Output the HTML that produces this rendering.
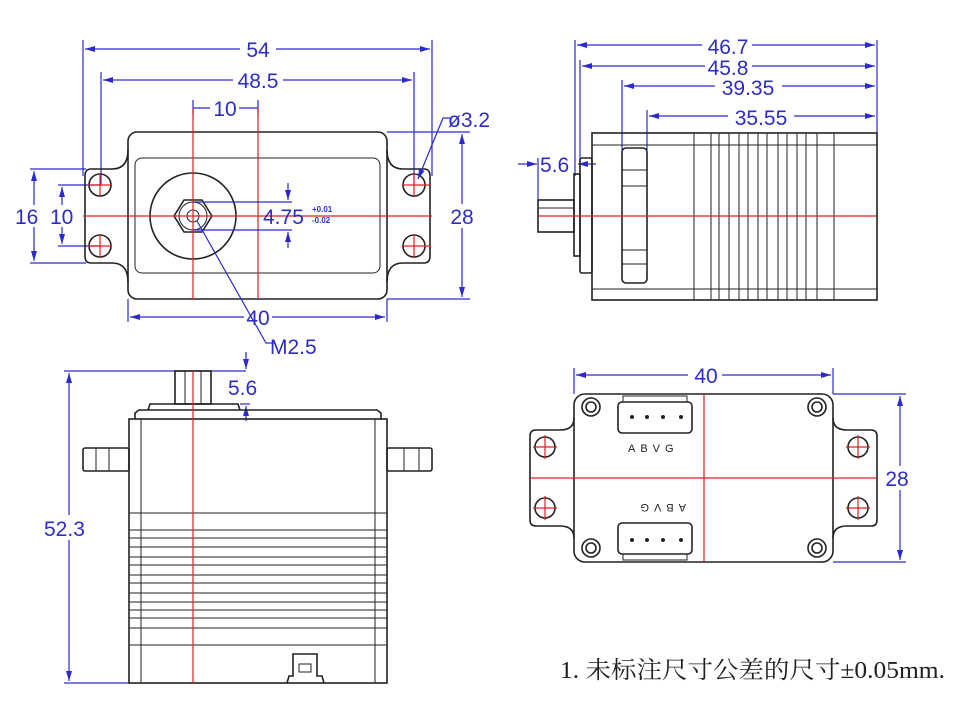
<!DOCTYPE html>
<html><head><meta charset="utf-8"><style>
html,body{margin:0;padding:0;background:#fff;}
svg{display:block}
.k{fill:none;stroke:#222;stroke-width:1.6}
.t{fill:none;stroke:#222;stroke-width:1}
.b{fill:none;stroke:#2a2ad0;stroke-width:1.2}
.r{fill:none;stroke:#e02020;stroke-width:1.2}
.d{font-family:"Liberation Sans",sans-serif;fill:#2c2ccc;font-size:21px}
</style></head><body>
<svg width="974" height="708" viewBox="0 0 974 708" xmlns="http://www.w3.org/2000/svg">
<defs>
<marker id="a" viewBox="0 0 10 6" refX="10" refY="3" markerWidth="10" markerHeight="6" orient="auto-start-reverse" markerUnits="userSpaceOnUse"><path d="M0,0L10,3L0,6z" fill="#2a2ad0"/></marker>
</defs>

<g>
<line class="b" x1="83" y1="40" x2="83" y2="176"/><line class="b" x1="432" y1="40" x2="432" y2="176"/>
<line class="b" x1="85" y1="49" x2="240" y2="49" marker-start="url(#a)"/><line class="b" x1="276" y1="49" x2="430" y2="49" marker-end="url(#a)"/>
<rect x="240" y="36" width="36" height="24" fill="#fff"/><text class="d" x="258" y="57" text-anchor="middle">54</text>
<line class="b" x1="101" y1="72" x2="101" y2="185"/><line class="b" x1="414" y1="72" x2="414" y2="185"/>
<line class="b" x1="103" y1="80" x2="233" y2="80" marker-start="url(#a)"/><line class="b" x1="283" y1="80" x2="412" y2="80" marker-end="url(#a)"/>
<text class="d" x="258" y="88" text-anchor="middle">48.5</text>
<line class="b" x1="193" y1="100" x2="193" y2="115"/><line class="b" x1="258" y1="100" x2="258" y2="115"/>
<line class="b" x1="193" y1="108" x2="210" y2="108"/><line class="b" x1="239" y1="108" x2="258" y2="108"/>
<text class="d" x="225" y="116" text-anchor="middle">10</text>
<line class="b" x1="30" y1="169" x2="86" y2="169"/><line class="b" x1="30" y1="263" x2="86" y2="263"/>
<line class="b" x1="34" y1="171" x2="34" y2="205" marker-start="url(#a)"/><line class="b" x1="34" y1="227" x2="34" y2="261" marker-end="url(#a)"/>
<line class="b" x1="58" y1="185" x2="100" y2="185"/><line class="b" x1="58" y1="246" x2="100" y2="246"/>
<line class="b" x1="62" y1="187" x2="62" y2="205" marker-start="url(#a)"/><line class="b" x1="62" y1="227" x2="62" y2="244" marker-end="url(#a)"/>
<text class="d" x="15" y="224">16</text><text class="d" x="50" y="224">10</text>
<line class="b" x1="387" y1="132" x2="470" y2="132"/><line class="b" x1="387" y1="299" x2="470" y2="299"/>
<line class="b" x1="462" y1="134" x2="462" y2="204" marker-start="url(#a)"/><line class="b" x1="462" y1="228" x2="462" y2="297" marker-end="url(#a)"/>
<text class="d" x="462" y="224" text-anchor="middle">28</text>
<line class="b" x1="128" y1="299" x2="128" y2="322"/><line class="b" x1="387" y1="299" x2="387" y2="322"/>
<line class="b" x1="130" y1="317" x2="244" y2="317" marker-start="url(#a)"/><line class="b" x1="272" y1="317" x2="385" y2="317" marker-end="url(#a)"/>
<text class="d" x="258" y="325" text-anchor="middle">40</text>
<rect class="k" x="128" y="132" width="259" height="167" rx="9"/>
<rect class="t" x="135" y="158" width="245" height="115" rx="7"/>
<path class="k" d="M128,150 Q128,169 112,169 L91,169 Q85,169 85,176 L85,256 Q85,263 91,263 L112,263 Q128,263 128,282"/>
<path class="k" d="M387,150 Q387,169 403,169 L424,169 Q430,169 430,176 L430,256 Q430,263 424,263 L403,263 Q387,263 387,282"/>
<circle class="k" cx="100" cy="185" r="11"/><circle class="k" cx="100" cy="246" r="11"/>
<circle class="k" cx="414" cy="185" r="11"/><circle class="k" cx="414" cy="246" r="11"/>
<circle class="k" cx="193" cy="216" r="43"/>
<polygon class="k" points="212,216 202,200 184,200 174,216 184,232 202,232"/>
<circle class="t" cx="193" cy="216" r="14"/><circle class="t" cx="193" cy="216" r="6"/>
<line class="r" x1="83" y1="216" x2="432" y2="216"/>
<line class="r" x1="193" y1="108" x2="193" y2="300"/><line class="r" x1="258" y1="108" x2="258" y2="300"/>
<line class="r" x1="88" y1="185" x2="112" y2="185"/><line class="r" x1="100" y1="173" x2="100" y2="197"/>
<line class="r" x1="88" y1="246" x2="112" y2="246"/><line class="r" x1="100" y1="234" x2="100" y2="258"/>
<line class="r" x1="402" y1="185" x2="430" y2="185"/><line class="r" x1="414" y1="173" x2="414" y2="197"/>
<line class="r" x1="402" y1="246" x2="430" y2="246"/><line class="r" x1="414" y1="234" x2="414" y2="258"/>
<line class="b" x1="193" y1="202" x2="292" y2="202"/><line class="b" x1="193" y1="230" x2="292" y2="230"/>
<line class="b" x1="288" y1="183" x2="288" y2="200" marker-end="url(#a)"/><line class="b" x1="288" y1="248" x2="288" y2="232" marker-end="url(#a)"/>
<text class="d" x="263" y="224">4.75</text>
<text class="d" x="312" y="212" style="font-size:8px;font-weight:bold">+0.01</text>
<text class="d" x="312" y="223" style="font-size:8px;font-weight:bold">-0.02</text>
<polyline class="b" points="197,221 266,343 275,343"/>
<text class="d" x="270" y="354">M2.5</text>
<polyline class="b" points="418,179 443,118 450,118" marker-start="url(#a)"/>
<text class="d" x="448" y="127">ø3.2</text>
</g>

<g>
<line class="b" x1="575" y1="40" x2="575" y2="176"/><line class="b" x1="580" y1="60" x2="580" y2="170"/>
<line class="b" x1="622" y1="80" x2="622" y2="150"/><line class="b" x1="647" y1="110" x2="647" y2="150"/>
<line class="b" x1="877" y1="40" x2="877" y2="133"/>
<line class="b" x1="577" y1="45" x2="702" y2="45" marker-start="url(#a)"/><line class="b" x1="752" y1="45" x2="875" y2="45" marker-end="url(#a)"/>
<text class="d" x="728" y="54" text-anchor="middle">46.7</text>
<line class="b" x1="582" y1="66" x2="705" y2="66" marker-start="url(#a)"/><line class="b" x1="752" y1="66" x2="875" y2="66" marker-end="url(#a)"/>
<text class="d" x="728" y="75" text-anchor="middle">45.8</text>
<line class="b" x1="624" y1="86" x2="715" y2="86" marker-start="url(#a)"/><line class="b" x1="782" y1="86" x2="875" y2="86" marker-end="url(#a)"/>
<text class="d" x="748" y="95" text-anchor="middle">39.35</text>
<line class="b" x1="649" y1="116" x2="728" y2="116" marker-start="url(#a)"/><line class="b" x1="794" y1="116" x2="875" y2="116" marker-end="url(#a)"/>
<text class="d" x="761" y="125" text-anchor="middle">35.55</text>
<line class="b" x1="518" y1="164" x2="537" y2="164" marker-end="url(#a)"/><line class="b" x1="538" y1="158" x2="538" y2="200"/>
<line class="b" x1="596" y1="164" x2="578" y2="164" marker-end="url(#a)"/>
<text class="d" x="540" y="172">5.6</text>
<rect class="k" x="592" y="133" width="285" height="167"/>
<line class="t" x1="592" y1="145" x2="877" y2="145"/><line class="t" x1="592" y1="289" x2="877" y2="289"/>
<g class="t">
<line x1="694" y1="133" x2="694" y2="300"/><line x1="711" y1="133" x2="711" y2="300"/><line x1="719" y1="133" x2="719" y2="300"/>
<line x1="729" y1="133" x2="729" y2="300"/><line x1="739" y1="133" x2="739" y2="300"/><line x1="748" y1="133" x2="748" y2="300"/>
<line x1="758" y1="133" x2="758" y2="300"/><line x1="767" y1="133" x2="767" y2="300"/><line x1="778" y1="133" x2="778" y2="300"/>
<line x1="787" y1="133" x2="787" y2="300"/><line x1="797" y1="133" x2="797" y2="300"/><line x1="806" y1="133" x2="806" y2="300"/>
<line x1="817" y1="133" x2="817" y2="300"/><line x1="834" y1="133" x2="834" y2="300"/>
</g>
<rect class="k" x="580" y="158" width="12" height="115" rx="2"/>
<rect class="k" x="574" y="174" width="6" height="82"/>
<rect class="k" x="538" y="200" width="36" height="32"/>
<line class="t" x1="538" y1="208" x2="574" y2="208"/>
<rect class="k" x="622" y="148" width="25" height="135" rx="4"/>
<line class="t" x1="622" y1="170" x2="647" y2="170"/><line class="t" x1="622" y1="186" x2="647" y2="186"/>
<line class="t" x1="622" y1="250" x2="647" y2="250"/><line class="t" x1="622" y1="264" x2="647" y2="264"/>
<line class="r" x1="538" y1="216" x2="877" y2="216"/>
</g>

<g>
<line class="b" x1="64" y1="371" x2="246" y2="371"/><line class="b" x1="64" y1="683" x2="130" y2="683"/>
<line class="b" x1="69" y1="373" x2="69" y2="515" marker-start="url(#a)"/><line class="b" x1="69" y1="540" x2="69" y2="681" marker-end="url(#a)"/>
<text class="d" x="44" y="536">52.3</text>
<line class="b" x1="246" y1="352" x2="246" y2="369" marker-end="url(#a)"/>
<line class="b" x1="246" y1="421" x2="246" y2="406" marker-end="url(#a)"/>
<line class="b" x1="240" y1="404" x2="250" y2="404"/>
<text class="d" x="228" y="395">5.6</text>
<rect class="k" x="175" y="371" width="36" height="33"/>
<line class="t" x1="185" y1="371" x2="185" y2="404"/><line class="t" x1="201" y1="371" x2="201" y2="404"/>
<path class="k" d="M148,410 L150,404 L238,404 L240,410"/>
<path class="k" d="M135,419 L135,413 L139,410 L377,410 L381,413 L381,419"/>
<rect class="k" x="129" y="419" width="258" height="264"/>
<line class="t" x1="141" y1="419" x2="141" y2="683"/><line class="t" x1="375" y1="419" x2="375" y2="683"/>
<rect class="k" x="83" y="448" width="46" height="23" rx="2"/>
<line class="t" x1="96" y1="448" x2="96" y2="471"/><line class="t" x1="109" y1="448" x2="109" y2="471"/>
<rect class="k" x="387" y="448" width="45" height="23" rx="2"/>
<line class="t" x1="404" y1="448" x2="404" y2="471"/><line class="t" x1="419" y1="448" x2="419" y2="471"/>
<g class="t">
<line x1="129" y1="513" x2="387" y2="513"/><line x1="129" y1="530" x2="387" y2="530"/>
<line x1="129" y1="538" x2="387" y2="538"/><line x1="129" y1="547" x2="387" y2="547"/>
<line x1="129" y1="557" x2="387" y2="557"/><line x1="129" y1="565" x2="387" y2="565"/>
<line x1="129" y1="575" x2="387" y2="575"/><line x1="129" y1="583" x2="387" y2="583"/>
<line x1="129" y1="593" x2="387" y2="593"/><line x1="129" y1="602" x2="387" y2="602"/>
<line x1="129" y1="610" x2="387" y2="610"/><line x1="129" y1="618" x2="387" y2="618"/>
<line x1="129" y1="628" x2="387" y2="628"/><line x1="129" y1="645" x2="387" y2="645"/>
</g>
<path class="k" d="M287,683 L289,676 L293,676 L293,654 L317,654 L317,676 L322,676 L324,683"/>
<rect class="t" x="299" y="664" width="12" height="8"/>
<line class="r" x1="193" y1="371" x2="193" y2="683"/>
</g>

<g>
<line class="b" x1="574" y1="368" x2="574" y2="394"/><line class="b" x1="833" y1="368" x2="833" y2="394"/>
<line class="b" x1="576" y1="375" x2="688" y2="375" marker-start="url(#a)"/><line class="b" x1="722" y1="375" x2="831" y2="375" marker-end="url(#a)"/>
<text class="d" x="706" y="383" text-anchor="middle">40</text>
<line class="b" x1="833" y1="394" x2="906" y2="394"/><line class="b" x1="833" y1="562" x2="906" y2="562"/>
<line class="b" x1="900" y1="396" x2="900" y2="466" marker-start="url(#a)"/><line class="b" x1="900" y1="490" x2="900" y2="560" marker-end="url(#a)"/>
<text class="d" x="897" y="486" text-anchor="middle">28</text>
<rect class="k" x="574" y="394" width="259" height="168" rx="11"/>
<path class="k" d="M574,418 Q574,430 560,430 L536,430 Q530,430 530,436 L530,520 Q530,526 536,526 L560,526 Q574,526 574,538"/>
<path class="k" d="M833,418 Q833,430 847,430 L871,430 Q877,430 877,436 L877,520 Q877,526 871,526 L847,526 Q833,526 833,538"/>
<circle class="k" cx="545" cy="447" r="10"/><circle class="k" cx="545" cy="508" r="10"/>
<circle class="k" cx="858" cy="447" r="10"/><circle class="k" cx="858" cy="508" r="10"/>
<g class="k">
<circle cx="591" cy="407" r="9"/><circle cx="591" cy="407" r="5"/>
<circle cx="817" cy="407" r="9"/><circle cx="817" cy="407" r="5"/>
<circle cx="591" cy="548" r="9"/><circle cx="591" cy="548" r="5"/>
<circle cx="817" cy="548" r="9"/><circle cx="817" cy="548" r="5"/>
</g>
<rect class="k" x="618" y="402" width="74" height="31" rx="4"/>
<rect class="t" x="623" y="396" width="64" height="6"/>
<rect class="k" x="618" y="523" width="74" height="31" rx="4"/>
<rect class="t" x="623" y="554" width="64" height="6"/>
<g fill="#222"><circle cx="632" cy="417" r="2"/><circle cx="647" cy="417" r="2"/><circle cx="663" cy="417" r="2"/><circle cx="681" cy="417" r="2"/>
<circle cx="632" cy="540" r="2"/><circle cx="647" cy="540" r="2"/><circle cx="663" cy="540" r="2"/><circle cx="681" cy="540" r="2"/></g>
<text x="628" y="452" style="font-family:'Liberation Sans',sans-serif;font-size:11px;fill:#222;letter-spacing:5px">ABVG</text>
<text x="0" y="0" transform="translate(686,504) rotate(180)" style="font-family:'Liberation Sans',sans-serif;font-size:11px;fill:#222;letter-spacing:5px">ABVG</text>
<line class="r" x1="704" y1="394" x2="704" y2="562"/>
<line class="r" x1="530" y1="478" x2="877" y2="478"/>
<line class="r" x1="533" y1="447" x2="557" y2="447"/><line class="r" x1="545" y1="435" x2="545" y2="459"/>
<line class="r" x1="533" y1="508" x2="557" y2="508"/><line class="r" x1="545" y1="496" x2="545" y2="520"/>
<line class="r" x1="846" y1="447" x2="870" y2="447"/><line class="r" x1="858" y1="435" x2="858" y2="459"/>
<line class="r" x1="846" y1="508" x2="870" y2="508"/><line class="r" x1="858" y1="496" x2="858" y2="520"/>
</g>

<text x="560" y="678" textLength="385" lengthAdjust="spacingAndGlyphs" style="font-family:'Liberation Serif','Noto Serif CJK SC',serif;font-size:24px;fill:#222">1. 未标注尺寸公差的尺寸±0.05mm.</text>
</svg>
</body></html>
